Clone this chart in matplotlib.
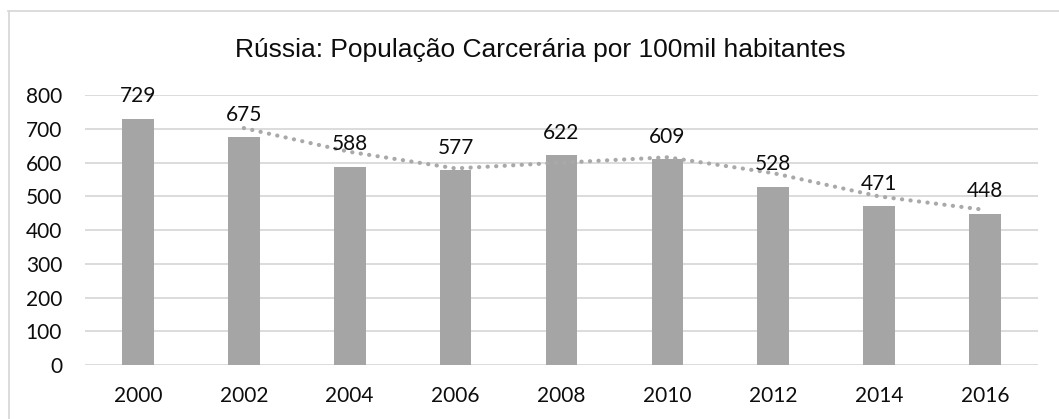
import matplotlib
matplotlib.use("Agg")
import matplotlib.pyplot as plt
import pandas as pd
from matplotlib.lines import Line2D

years = ["2000", "2002", "2004", "2006", "2008", "2010", "2012", "2014", "2016"]
rates = [729, 675, 588, 577, 622, 609, 528, 471, 448]
y_ticks = [0, 100, 200, 300, 400, 500, 600, 700, 800]
title = "Rússia: População Carcerária por 100mil habitantes"

# two-period moving average trendline
trend = pd.Series(rates, dtype=float).rolling(2).mean()

W, H = 1059, 419
fig = plt.figure(figsize=(W / 100, H / 100), dpi=100)
fig.patch.set_facecolor("white")

# plot area in pixel terms
left, right, top, bottom = 85, 1038, 95, 365
ax = fig.add_axes([left / W, 1 - bottom / H, (right - left) / W, (bottom - top) / H])

x = list(range(len(years)))
bar_color = "#A5A5A5"
ax.bar(x, rates, width=0.30, color=bar_color, zorder=2)
ax.plot(x, trend, linestyle=(0, (0.05, 2.0)), color="#A9A9A9", linewidth=3.0,
        dash_capstyle="round", zorder=3)

label_font = "Lato"
text_color = "#0d0d0d"
for xi, v in zip(x, rates):
    ax.annotate(str(v), (xi, v), xytext=(0, 9), textcoords="offset points",
                ha="center", va="bottom", fontsize=15, family=label_font,
                color=text_color, zorder=4)

ax.set_xlim(-0.5, len(years) - 0.5)
ax.set_ylim(0, 800)
ax.set_yticks(y_ticks)
ax.set_yticklabels([str(t) for t in y_ticks], family=label_font, fontsize=15, color=text_color)
ax.set_xticks(x)
ax.set_xticklabels(years, family=label_font, fontsize=15, color=text_color)
ax.tick_params(axis="both", length=0)
ax.tick_params(axis="y", pad=16.5)
ax.tick_params(axis="x", pad=15)
ax.yaxis.grid(True, color="#D9D9D9", linewidth=1.3, zorder=0)
ax.set_axisbelow(True)
for s in ax.spines.values():
    s.set_visible(False)
ax.set_facecolor("none")

fig.text(540 / W, 1 - 50 / H, title, ha="center", va="center",
         fontsize=19, family="Liberation Sans", color=text_color)

# chart frame (top and left edges)
fig.add_artist(Line2D([8 / W, 1.0], [1 - 11.5 / H, 1 - 11.5 / H],
                      transform=fig.transFigure, color="#D9D9D9", linewidth=1.3))
fig.add_artist(Line2D([8.5 / W, 8.5 / W], [0, 1 - 11.5 / H],
                      transform=fig.transFigure, color="#D9D9D9", linewidth=1.3))

fig.savefig("out.png", dpi=100, facecolor="white")
